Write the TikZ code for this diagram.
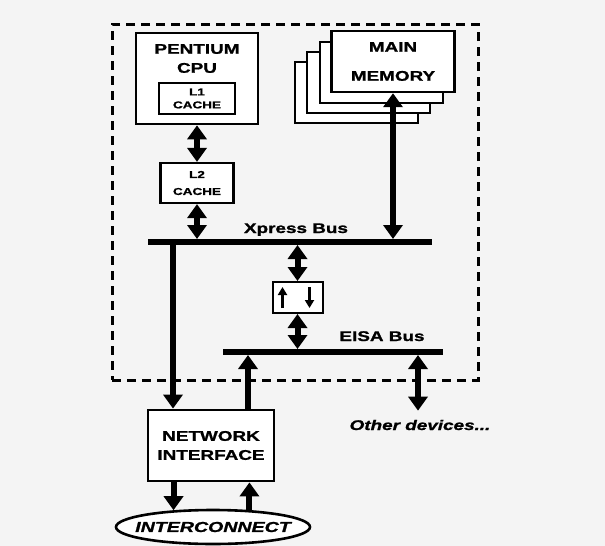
\documentclass[tikz,border=0pt]{standalone}
\usepackage{fontspec}
\newfontfamily\hv{Liberation Sans}[FakeStretch=1.35,FakeBold=1.2]
\usetikzlibrary{arrows.meta,shapes.geometric}
\definecolor{paper}{RGB}{244,244,244}
\begin{document}
\begin{tikzpicture}[x=1pt,y=-1pt,
  box/.style={draw, line width=2.6pt, fill=white, inner sep=0pt},
  memb/.style={draw, line width=2pt, fill=white, minimum width=123pt, minimum height=61pt, inner sep=0pt},
  lbl/.style={font=\hv\bfseries\fontsize{14}{19}\selectfont, align=center, inner sep=0pt},
  sml/.style={font=\hv\bfseries\fontsize{10}{13}\selectfont, align=center, inner sep=0pt},
  bus/.style={line width=6pt},
  arr/.style={line width=6pt, -{Triangle[width=19pt,length=14pt]}},
  darr/.style={line width=6pt, {Triangle[width=19pt,length=14pt]}-{Triangle[width=19pt,length=14pt]}},
  thinarr/.style={line width=2.4pt, -{Triangle[width=9pt,length=8pt]}},
  frame/.style={draw, line width=3pt, dash pattern=on 9pt off 6pt, inner sep=0pt},
  ell/.style={draw, ellipse, line width=2.6pt, fill=white, inner sep=0pt, minimum width=194pt, minimum height=34pt},
]
\fill[paper] (0,0) rectangle (605,546);
\useasboundingbox (0,0) rectangle (605,546);

% system frame
\node[frame, minimum width=366pt, minimum height=356pt] (sys) at (295,202) {};

% CPU
\node[box, minimum width=122pt, minimum height=91pt] (cpu) at (197,78.5) {};
\node[lbl] (cput) at (197,58.5) {PENTIUM\\CPU};
\node[box, line width=2.2pt, minimum width=76pt, minimum height=31pt, sml] (l1) at (197,98.5) {L1\\CACHE};
\node[box, line width=2.2pt, minimum width=73pt, minimum height=40pt, font=\hv\bfseries\fontsize{10}{17}\selectfont, align=center] (l2) at (197,183) {L2\\CACHE};

% Main memory stack
\node[memb] (m4) at (356,92.5) {};
\node[memb] (m3) at (368.5,82.5) {};
\node[memb] (m2) at (381,72) {};
\node[memb, line width=2.4pt, font=\hv\bfseries\fontsize{14}{29}\selectfont, align=center] (mem) at (393,61.5) {MAIN\\MEMORY};

% Xpress bus
\coordinate (xbL) at (148,242);
\coordinate (xbR) at (432,242);
\draw[bus] (xbL) -- (xbR);
\node[lbl, anchor=base] (xbt) at (296,233) {Xpress Bus};

% Bridge
\node[box, line width=2pt, minimum width=50pt, minimum height=31pt] (br) at (297.5,297.5) {};
\draw[thinarr] ([shift={(11,-6)}]br.south west) -- ([shift={(11,6)}]br.north west);
\draw[thinarr] ([shift={(-14,6)}]br.north east) -- ([shift={(-14,-6)}]br.south east);

% EISA bus
\coordinate (ebL) at (223,352);
\coordinate (ebR) at (443,352);
\draw[bus] (ebL) -- (ebR);
\node[lbl, anchor=base] (ebt) at (382,341) {EISA Bus};

% Network interface and interconnect
\node[box, line width=2.8pt, minimum width=126pt, minimum height=71pt, lbl] (ni) at (211,445.5) {NETWORK\\INTERFACE};
\node[ell] (ic) at (213,527) {};
\node[lbl, font=\hv\bfseries\itshape\fontsize{14.5}{19}\selectfont] (ict) at (ic) {INTERCONNECT};

% Other devices
\node[lbl, font=\hv\bfseries\itshape\fontsize{14}{19}\selectfont] (oth) at (420,425) {Other devices...};

% connectors
\coordinate (nid) at (173,242);
\coordinate (niu) at (248,352);
\coordinate (od) at (418,352);
\draw[darr] (cpu.south) -- (l2.north);
\draw[darr] (l2.south) -- ([yshift=3pt]l2.south |- xbL);
\draw[darr] (mem.south) -- ([yshift=3pt]mem.south |- xbL);
\draw[arr] (nid) -- (nid |- ni.north);
\draw[darr] ([yshift=-3pt]br.north |- xbL) -- (br.north);
\draw[darr] (br.south) -- ([yshift=3pt]br.south |- ebL);
\draw[arr] (niu |- ni.north) -- ([yshift=-3pt]niu);
\draw[darr] ([yshift=-3pt]od) -- ([yshift=9pt]od |- oth.north);
\draw[arr] (ni.south -| ic.157) -- (ic.157);
\draw[arr] (ic.25) -- (ni.south -| ic.25);
\end{tikzpicture}
\end{document}
